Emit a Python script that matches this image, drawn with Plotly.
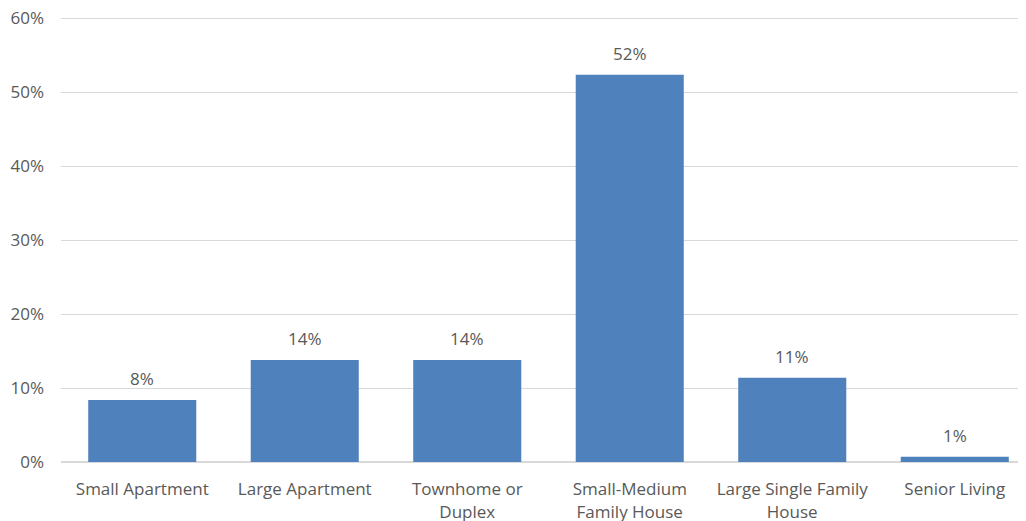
import plotly.graph_objects as go

categories = ["Small Apartment", "Large Apartment", "Townhome or<br>Duplex",
              "Small-Medium<br>Family House", "Large Single Family<br>House", "Senior Living"]
values = [0.084, 0.138, 0.138, 0.524, 0.114, 0.007]
labels = ["8%", "14%", "14%", "52%", "11%", "1%"]
y_ticks = [0, 0.1, 0.2, 0.3, 0.4, 0.5, 0.6]
y_tick_text = ["0%", "10%", "20%", "30%", "40%", "50%", "60%"]

font_family = "Open Sans"
text_color = "#595959"

fig = go.Figure(go.Bar(
    x=categories, y=values,
    marker=dict(color="#4F81BD", line=dict(width=0)),
    width=0.665, cliponaxis=False,
))

for c, v, t in zip(categories, values, labels):
    fig.add_annotation(x=c, y=v, text=t, showarrow=False, yanchor="bottom",
                       yshift=8, font=dict(size=17, color=text_color, family=font_family))

fig.update_layout(
    width=1028, height=514,
    margin=dict(l=53, r=0, t=9, b=60),
    paper_bgcolor="white", plot_bgcolor="white",
    font=dict(family=font_family, size=17, color=text_color),
    showlegend=False,
    xaxis=dict(showgrid=False, showline=True, linecolor="#d9d9d9", linewidth=1,
               ticks="", ticklabelstandoff=12),
    yaxis=dict(range=[0, 0.602], tickvals=y_ticks, ticktext=y_tick_text,
               showgrid=True, gridcolor="#d9d9d9", gridwidth=1,
               zeroline=True, zerolinecolor="#d9d9d9", showline=False,
               ticks="", ticklabelstandoff=16, ticklabeloverflow="allow",
               automargin=False),
)

fig.write_html("out.html")
